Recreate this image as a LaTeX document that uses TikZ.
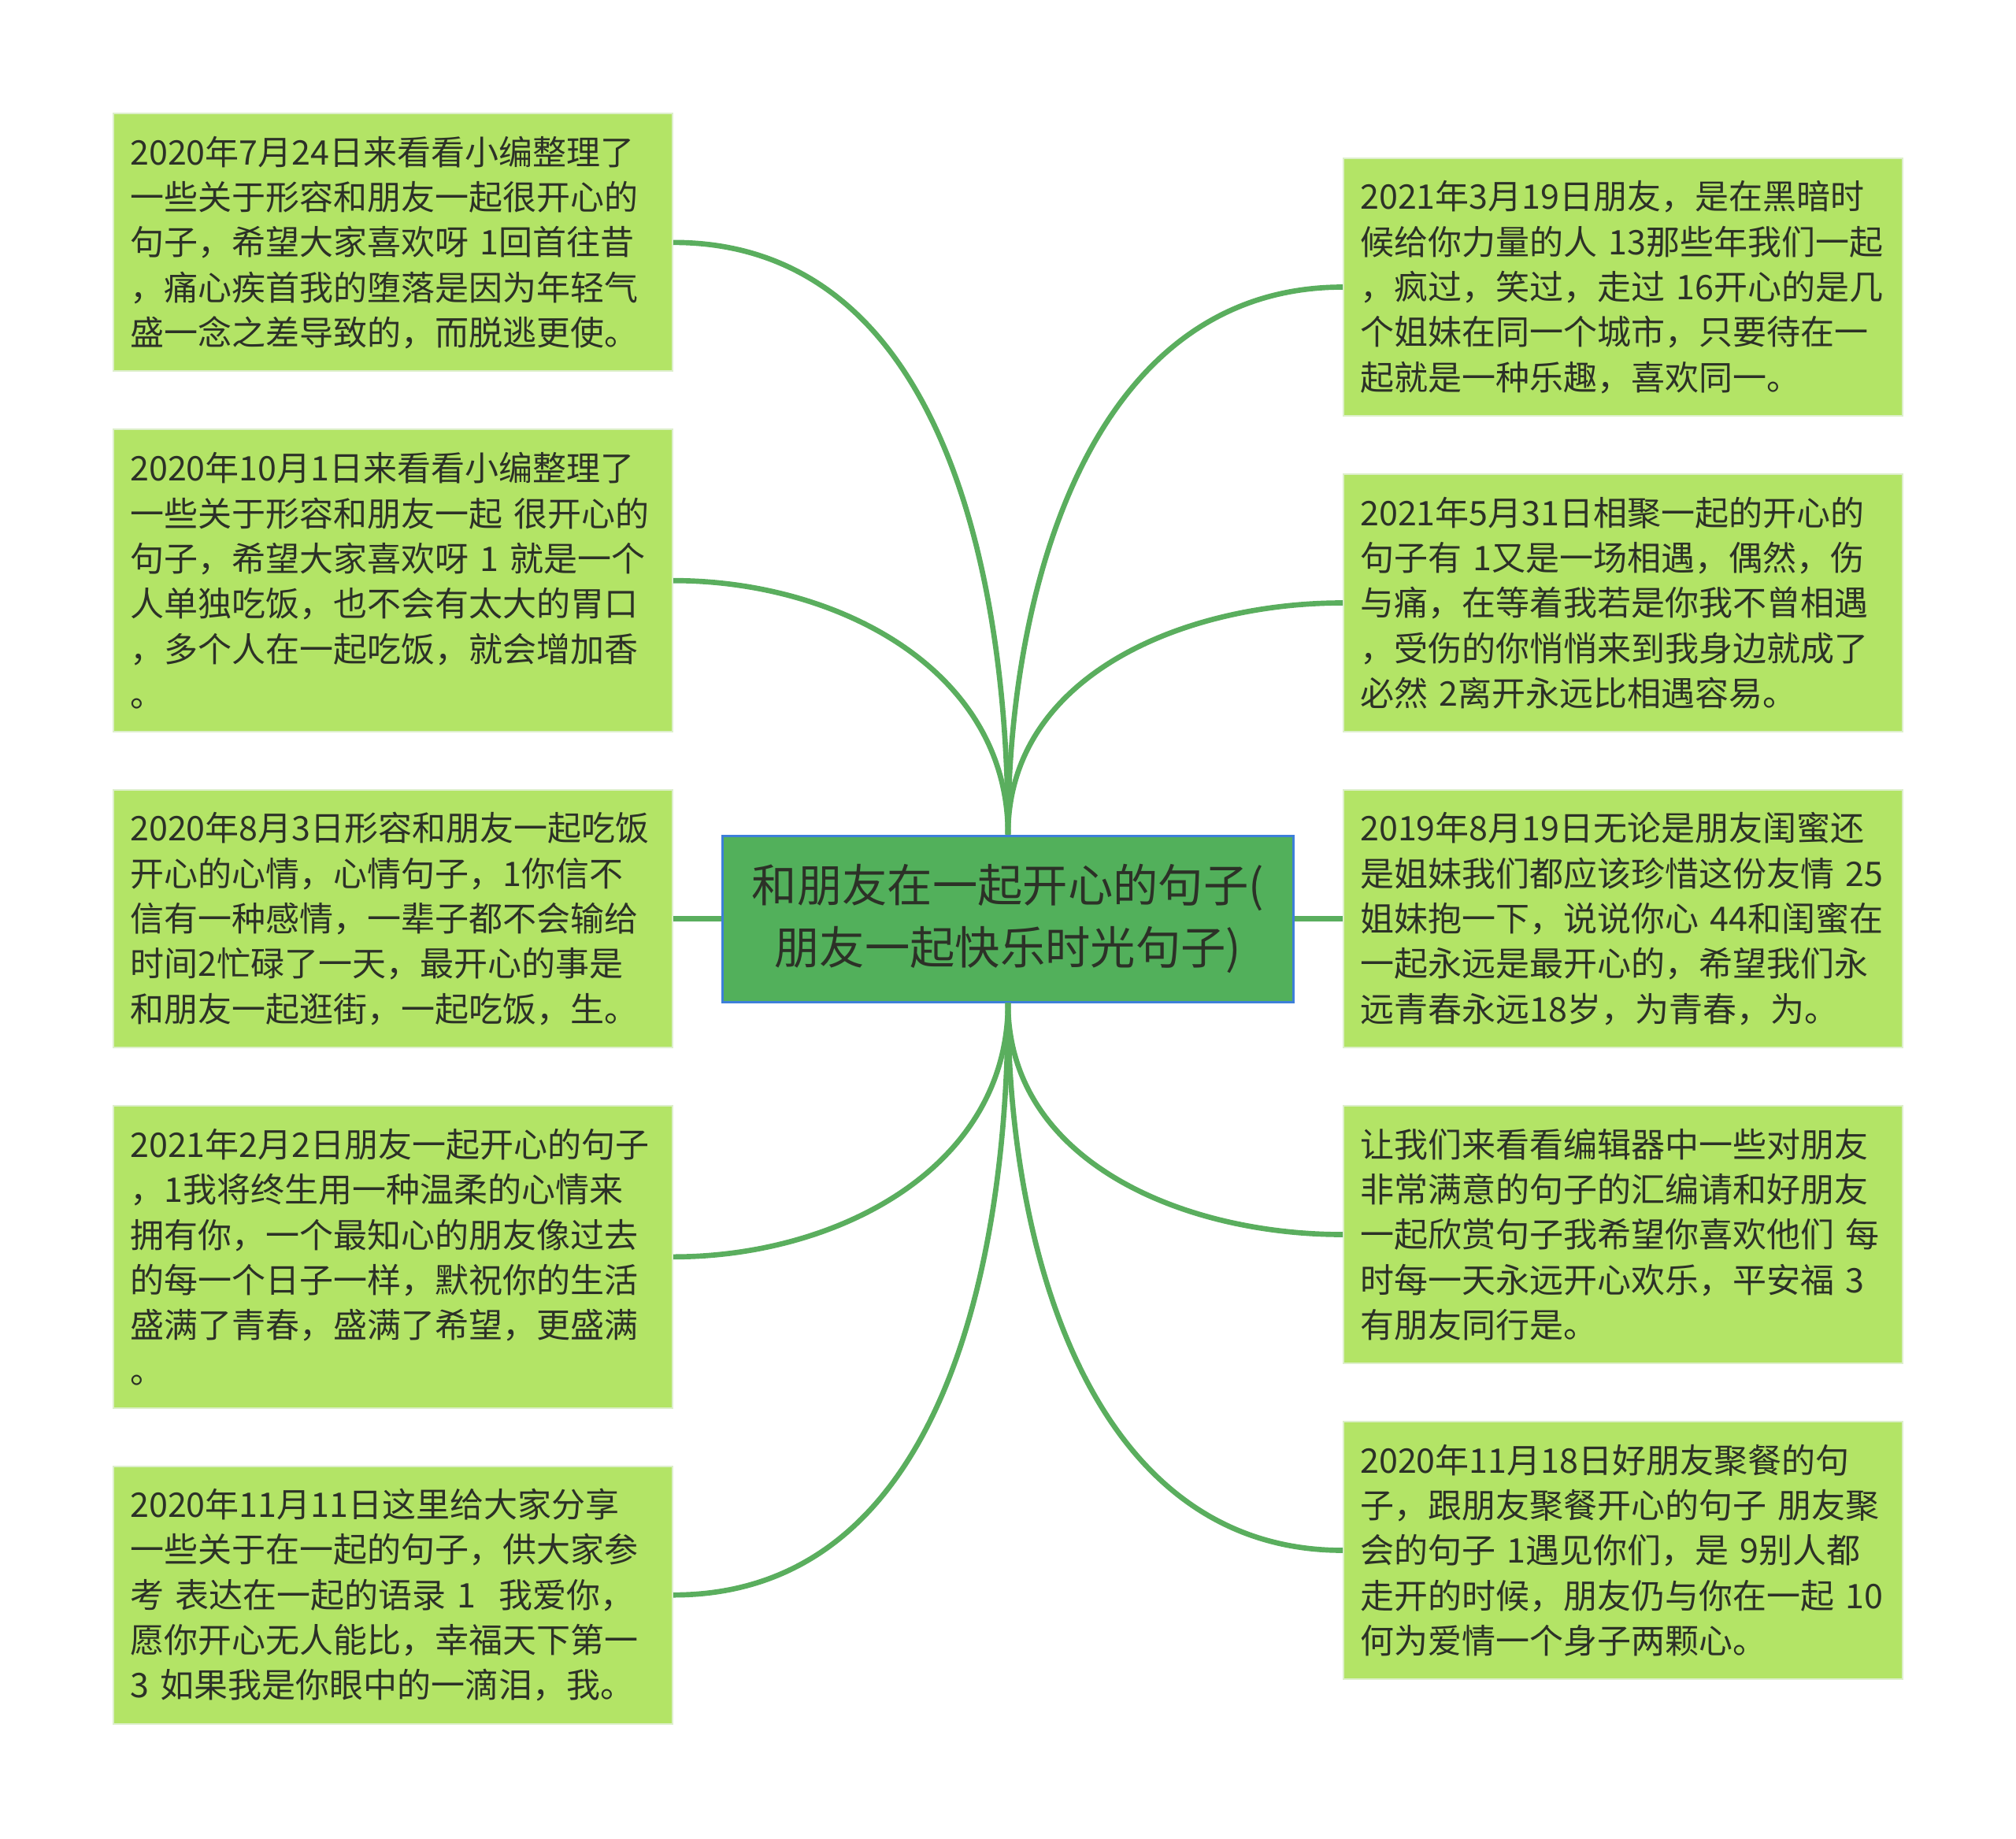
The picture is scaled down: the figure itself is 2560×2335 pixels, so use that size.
\documentclass[tikz,border=0pt]{standalone}
\usepackage{fontspec}
\setmainfont{Noto Sans CJK SC}
\usepackage{xcolor}
\usepackage{tikz}
\usetikzlibrary{positioning}

\definecolor{leafgreen}{HTML}{B3E466}
\definecolor{leafline}{HTML}{DDEFCB}
\definecolor{rootgreen}{HTML}{52B05B}
\definecolor{rootline}{HTML}{3D7FD9}
\definecolor{linkgreen}{HTML}{5AAE5E}
\definecolor{inkgray}{HTML}{2C3127}

\begin{document}
\begin{tikzpicture}[
  x=0.3pt, y=-0.3pt,
  node distance=21.6pt and 18.3pt,
  every node/.style={text=inkgray},
  root/.style={rectangle, draw=rootline, line width=0.9pt, fill=rootgreen,
    align=center, minimum width=217.5pt, minimum height=63.3pt,
    inner sep=2pt, font=\fontsize{17.2}{23.5}\selectfont},
  leaf/.style={rectangle, draw=leafline, line width=0.6pt, fill=leafgreen,
    align=left, text width=200.2pt, inner xsep=6.4pt, inner ysep=2pt,
    minimum width=213pt, minimum height=98.1pt,
    font=\fontsize{12.9}{17.2}\selectfont},
  tall/.style={minimum height=115.1pt},
  link/.style={draw=linkgreen, line width=2pt}
]
\useasboundingbox (0,0) rectangle (2560,2335);

\node[root] (root) at (1280,1166.5) {和朋友在一起开心的句子(\\
  朋友一起快乐时光句子)};

\node[leaf, left=of root] (l3) {2020年8月3日形容和朋友一起吃饭\\
  开心的心情，心情句子，1你信不\\
  信有一种感情，一辈子都不会输给\\
  时间2忙碌了一天，最开心的事是\\
  和朋友一起逛街，一起吃饭，生。};
\node[leaf, tall, above=of l3] (l2) {2020年10月1日来看看小编整理了\\
  一些关于形容和朋友一起~很开心的\\
  句子，希望大家喜欢呀~1~就是一个\\
  人单独吃饭，也不会有太大的胃口\\
  ，多个人在一起吃饭，就会增加香\\
  。};
\node[leaf, above=of l2] (l1) {2020年7月24日来看看小编整理了\\
  一些关于形容和朋友一起很开心的\\
  句子，希望大家喜欢呀~1回首往昔\\
  ，痛心疾首我的堕落是因为年轻气\\
  盛一念之差导致的，而脱逃更使。};
\node[leaf, tall, below=of l3] (l4) {2021年2月2日朋友一起开心的句子\\
  ，1我将终生用一种温柔的心情来\\
  拥有你，一个最知心的朋友像过去\\
  的每一个日子一样，默祝你的生活\\
  盛满了青春，盛满了希望，更盛满\\
  。};
\node[leaf, below=of l4] (l5) {2020年11月11日这里给大家分享\\
  一些关于在一起的句子，供大家参\\
  考~表达在一起的语录~1~~我爱你，\\
  愿你开心无人能比，幸福天下第一\\
  3~如果我是你眼中的一滴泪，我。};

\node[leaf, right=of root] (r3) {2019年8月19日无论是朋友闺蜜还\\
  是姐妹我们都应该珍惜这份友情~25\\
  姐妹抱一下，说说你心~44和闺蜜在\\
  一起永远是最开心的，希望我们永\\
  远青春永远18岁，为青春，为。};
\node[leaf, above=of r3] (r2) {2021年5月31日相聚一起的开心的\\
  句子有~1又是一场相遇，偶然，伤\\
  与痛，在等着我若是你我不曾相遇\\
  ，受伤的你悄悄来到我身边就成了\\
  必然~2离开永远比相遇容易。};
\node[leaf, above=of r2] (r1) {2021年3月19日朋友，是在黑暗时\\
  候给你力量的人~13那些年我们一起\\
  ，疯过，笑过，走过~16开心的是几\\
  个姐妹在同一个城市，只要待在一\\
  起就是一种乐趣，喜欢同一。};
\node[leaf, below=of r3] (r4) {让我们来看看编辑器中一些对朋友\\
  非常满意的句子的汇编请和好朋友\\
  一起欣赏句子我希望你喜欢他们~每\\
  时每一天永远开心欢乐，平安福~3\\
  有朋友同行是。};
\node[leaf, below=of r4] (r5) {2020年11月18日好朋友聚餐的句\\
  子，跟朋友聚餐开心的句子~朋友聚\\
  会的句子~1遇见你们，是~9别人都\\
  走开的时候，朋友仍与你在一起~10\\
  何为爱情一个身子两颗心。};

\draw[link] (root.north) to[out=90, in=0] (l1.east);
\draw[link] (root.north) to[out=90, in=0] (l2.east);
\draw[link] (root.west) -- (l3.east);
\draw[link] (root.south) to[out=-90, in=0] (l4.east);
\draw[link] (root.south) to[out=-90, in=0] (l5.east);
\draw[link] (root.north) to[out=90, in=180] (r1.west);
\draw[link] (root.north) to[out=90, in=180] (r2.west);
\draw[link] (root.east) -- (r3.west);
\draw[link] (root.south) to[out=-90, in=180] (r4.west);
\draw[link] (root.south) to[out=-90, in=180] (r5.west);

\end{tikzpicture}
\end{document}
